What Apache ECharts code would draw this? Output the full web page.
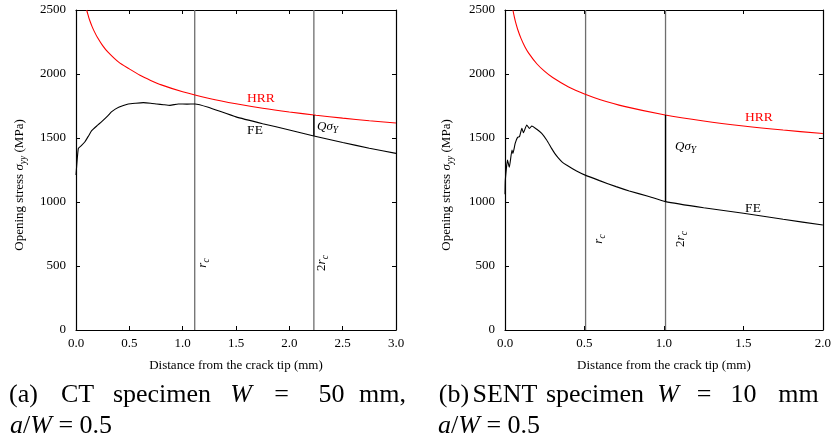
<!DOCTYPE html>
<html><head><meta charset="utf-8">
<script src="https://cdn.jsdelivr.net/npm/echarts@6/dist/echarts.min.js"></script>
<style>html,body{margin:0;padding:0;background:#fff}#c{width:834px;height:446px}</style>
</head><body><div id="c"></div>
<script>
// ---------- data ----------
const yTickValues = [0, 500, 1000, 1500, 2000, 2500];
const yTickLabels = ['0', '500', '1000', '1500', '2000', '2500'];
const ctXTickLabels = ['0.0','0.5','1.0','1.5','2.0','2.5','3.0'];
const sentXTickLabels = ['0.0','0.5','1.0','1.5','2.0'];

// (a) CT specimen
const ctHrrX = [0.1, 0.11, 0.12, 0.13, 0.15, 0.17, 0.2, 0.25, 0.3, 0.4, 0.5, 0.6, 0.7, 0.8, 1.0, 1.25, 1.5, 1.75, 2.0, 2.25, 2.5, 2.75, 3.0];
const ctHrrY = [2500, 2469, 2441, 2416, 2372, 2335, 2287, 2222, 2171, 2093, 2040, 1990, 1950, 1915, 1861, 1809, 1767, 1732, 1703, 1678, 1655, 1635, 1617];
const ctFeX = [0, 0.022, 0.05, 0.084, 0.12, 0.147, 0.2, 0.241, 0.3, 0.335, 0.4, 0.49, 0.56, 0.631, 0.7, 0.757, 0.82, 0.881, 0.959, 1.04, 1.116, 1.24, 1.5, 1.75, 2.0, 2.23, 2.5, 2.75, 3.0];
const ctFeY = [1211, 1419, 1440, 1471, 1520, 1557, 1598, 1628, 1675, 1706, 1740, 1766, 1772, 1776, 1772, 1766, 1760, 1755, 1766, 1765, 1766, 1740, 1665, 1612, 1563, 1516, 1465, 1420, 1380];
const ctMarkers = [1.113, 2.23];      // r_c, 2r_c
const ctQ = [1516, 1680];             // FE and HRR at 2r_c

// (b) SENT specimen
const sentHrrX = [0.05, 0.06, 0.07, 0.08, 0.1, 0.125, 0.15, 0.2, 0.25, 0.3, 0.4, 0.5, 0.6, 0.75, 1.0, 1.25, 1.5, 1.75, 2.0];
const sentHrrY = [2498, 2439, 2389, 2348, 2280, 2213, 2161, 2080, 2020, 1972, 1898, 1843, 1799, 1747, 1682, 1633, 1594, 1562, 1535];
const sentFeX = [0, 0.002, 0.016, 0.027, 0.044, 0.05, 0.064, 0.079, 0.091, 0.106, 0.116, 0.137, 0.154, 0.169, 0.2, 0.231, 0.262, 0.293, 0.314, 0.335, 0.36, 0.387, 0.45, 0.508, 0.595, 0.699, 0.782, 0.9, 1.01, 1.25, 1.5, 1.75, 2.0];
const sentFeY = [1060, 1172, 1328, 1271, 1406, 1380, 1458, 1505, 1510, 1575, 1541, 1602, 1575, 1594, 1568, 1536, 1484, 1419, 1378, 1345, 1312, 1289, 1242, 1208, 1167, 1120, 1086, 1045, 1003, 955, 912, 865, 820];
const sentMarkers = [0.507, 1.01];
const sentQ = [1003, 1680];

// ---------- chart ----------
const FONT = 'Liberation Serif';
const zip = (xs, ys) => xs.map((x, i) => [x, ys[i]]);
const chart = echarts.init(document.getElementById('c'), null, {renderer: 'canvas'});

const grids = [
  {left: 76, top: 10, width: 320, height: 320},
  {left: 505, top: 10, width: 320, height: 320}
];
const axisLine = {show: true, onZero: false, lineStyle: {color: '#000', width: 1.2}};
const axisTick = {show: true, inside: true, length: 4, lineStyle: {color: '#000', width: 1}};

function xAxes(gi, labels) {
  const max = parseFloat(labels[labels.length - 1]);
  const base = {type: 'value', gridIndex: gi, min: 0, max: max, interval: 0.5,
    axisLine: axisLine, axisTick: axisTick, splitLine: {show: false}};
  return [
    Object.assign({}, base, {position: 'bottom',
      axisLabel: {fontFamily: FONT, fontSize: 13, color: '#000', margin: 7,
        formatter: v => labels[Math.round(v / 0.5)]},
      name: 'Distance from the crack tip (mm)', nameLocation: 'middle', nameGap: 29,
      nameTextStyle: {fontFamily: FONT, fontSize: 13, color: '#000'}}),
    Object.assign({}, base, {position: 'top', axisLabel: {show: false}})
  ];
}
function yAxes(gi) {
  const step = yTickValues[1] - yTickValues[0];
  const base = {type: 'value', gridIndex: gi, min: yTickValues[0], max: yTickValues[yTickValues.length - 1],
    interval: step, axisLine: axisLine, axisTick: axisTick, splitLine: {show: false}};
  return [
    Object.assign({}, base, {position: 'left',
      axisLabel: {fontFamily: FONT, fontSize: 13, color: '#000', margin: 10,
        formatter: v => yTickLabels[Math.round(v / step)]}}),
    Object.assign({}, base, {position: 'right', axisLabel: {show: false}})
  ];
}

function panelSeries(gi, hrrX, hrrY, feX, feY, markers, q) {
  const xi = gi * 2, yi = gi * 2;
  const common = {type: 'line', xAxisIndex: xi, yAxisIndex: yi, symbol: 'none', showSymbol: false,
    animation: false, silent: true, clip: true};
  const out = [];
  markers.forEach(m => out.push(Object.assign({}, common, {
    data: [[m, yTickValues[0]], [m, yTickValues[yTickValues.length - 1]]],
    lineStyle: {color: '#6e6e6e', width: 1.3}, z: 2})));
  out.push(Object.assign({}, common, {name: 'HRR', data: zip(hrrX, hrrY), smooth: 0.3,
    lineStyle: {color: '#ff0000', width: 1.1}, z: 3}));
  out.push(Object.assign({}, common, {name: 'FE', data: zip(feX, feY), smooth: 0.15,
    lineStyle: {color: '#000', width: 1.1}, z: 4}));
  out.push(Object.assign({}, common, {data: [[markers[1], q[0]], [markers[1], q[1]]],
    lineStyle: {color: '#000', width: 1.3}, z: 5}));
  return out;
}

const richBase = {
  n: {fontFamily: FONT, fontSize: 13, color: '#000'},
  i: {fontFamily: FONT, fontSize: 13, fontStyle: 'italic', color: '#000'},
  s: {fontFamily: FONT, fontSize: 9.5, fontStyle: 'italic', color: '#000', padding: [7, 0, 0, 0]}
};
function txt(x, y, text, opts) {
  return Object.assign({type: 'text', x: x, y: y, silent: true, z: 100,
    style: Object.assign({text: text, fontFamily: FONT, fontSize: 13, fill: '#000',
      align: 'center', verticalAlign: 'middle', rich: richBase}, (opts && opts.style) || {})},
    opts && opts.rotation ? {rotation: opts.rotation} : {});
}
const capRich = {
  n: {fontFamily: FONT, fontSize: 26, color: '#000'},
  i: {fontFamily: FONT, fontSize: 26, fontStyle: 'italic', color: '#000'}
};
function cap(x, y, text, align) {
  return {type: 'text', x: x, y: y, silent: true, z: 100,
    style: {text: text, fontFamily: FONT, fontSize: 26, fill: '#000', align: align || 'center',
      verticalAlign: 'middle', rich: capRich}};
}

const yName = '{n|Opening stress }{i|σ}{s|yy}{n| (MPa)}';
const graphics = [
  // y-axis names
  txt(20, 185, yName, {rotation: Math.PI / 2}),
  txt(447, 185, yName, {rotation: Math.PI / 2}),
  // panel (a) annotations
  txt(261, 98, 'HRR', {style: {fill: '#ff0000', fontSize: 13.5}}),
  txt(255, 130, 'FE', {style: {fontSize: 13.5}}),
  txt(317, 127, '{i|Qσ}{s|Y}', {style: {align: 'left'}}),
  txt(203, 263, '{i|r}{s|c}', {rotation: Math.PI / 2}),
  txt(322, 263, '{n|2}{i|r}{s|c}', {rotation: Math.PI / 2}),
  // panel (b) annotations
  txt(759, 117, 'HRR', {style: {fill: '#ff0000', fontSize: 13.5}}),
  txt(753, 208, 'FE', {style: {fontSize: 13.5}}),
  txt(675, 147, '{i|Qσ}{s|Y}', {style: {align: 'left'}}),
  txt(599, 239, '{i|r}{s|c}', {rotation: Math.PI / 2}),
  txt(681, 239, '{n|2}{i|r}{s|c}', {rotation: Math.PI / 2}),
  // captions (a)
  cap(23.5, 395, '(a)'), cap(77.5, 395, 'CT'), cap(162, 395, 'specimen'),
  cap(241, 395, '{i|W}'), cap(281.5, 395, '='), cap(331.5, 395, '50'), cap(382.5, 395, 'mm,'),
  cap(10, 426, '{i|a}{n|/}{i|W}{n| = 0.5}', 'left'),
  // captions (b)
  cap(454, 395, '(b)'), cap(505, 395, 'SENT'), cap(595, 395, 'specimen'),
  cap(668, 395, '{i|W}'), cap(704, 395, '='), cap(743.5, 395, '10'), cap(798.5, 395, 'mm'),
  cap(438, 426, '{i|a}{n|/}{i|W}{n| = 0.5}', 'left')
];

chart.setOption({
  animation: false,
  backgroundColor: '#fff',
  grid: grids,
  xAxis: xAxes(0, ctXTickLabels).concat(xAxes(1, sentXTickLabels)),
  yAxis: yAxes(0).concat(yAxes(1)),
  series: panelSeries(0, ctHrrX, ctHrrY, ctFeX, ctFeY, ctMarkers, ctQ)
    .concat(panelSeries(1, sentHrrX, sentHrrY, sentFeX, sentFeY, sentMarkers, sentQ)),
  graphic: graphics
});
</script></body></html>
